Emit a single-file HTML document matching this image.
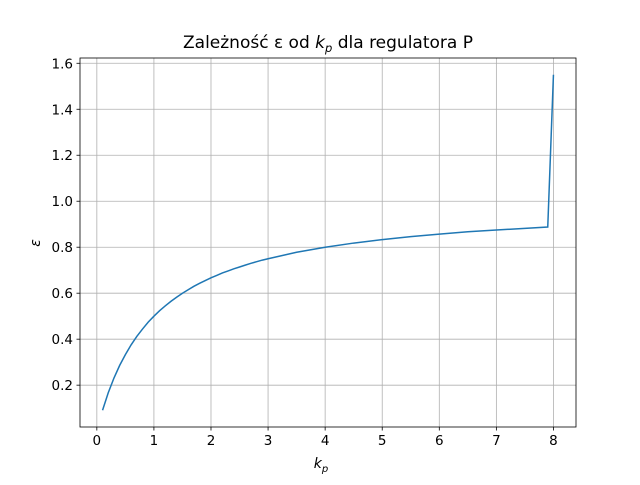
<!DOCTYPE html>
<html><head><meta charset="utf-8"><style>body{margin:0;background:#fff}svg text{font-family:"DejaVu Sans","Liberation Sans",sans-serif;fill:#000}</style></head>
<body>
<svg id="chart" width="640" height="480" xmlns="http://www.w3.org/2000/svg">
<rect width="640" height="480" fill="#fff"/>
<g id="grid"></g>
<g id="ticks"></g>
<path id="line" fill="none" stroke="#1f77b4" stroke-width="1.5"/>
<rect x="80" y="58" width="496" height="369" fill="none" stroke="#000" stroke-width="0.8"/>
<text x="328" y="48" text-anchor="middle" font-size="17">Zależność ε od <tspan font-style="italic">k</tspan><tspan font-style="italic" font-size="11.5" dy="4">p</tspan><tspan dy="-4"> dla regulatora P</tspan></text>
<text x="321" y="468" text-anchor="middle" font-size="14"><tspan font-style="italic">k</tspan><tspan font-style="italic" font-size="10" dy="4">p</tspan></text>
<text transform="translate(40,243) rotate(-90)" text-anchor="middle" font-size="14" font-style="italic">ε</text>
</svg>
<script>
const kp=[0.1,0.2,0.3,0.4,0.5,0.6,0.7,0.8,0.9,1.0,1.1,1.2,1.3,1.4,1.5,1.6,1.7,1.8,1.9,2.0,2.1,2.2,2.3,2.4,2.5,2.6,2.7,2.8,2.9,3.0,3.5,4.0,4.5,5.0,5.5,6.0,6.5,7.0,7.5,7.9,8.0];
const eps=[0.091,0.167,0.231,0.286,0.333,0.375,0.412,0.444,0.474,0.5,0.524,0.545,0.565,0.583,0.6,0.615,0.630,0.643,0.655,0.667,0.677,0.688,0.697,0.706,0.714,0.722,0.730,0.737,0.744,0.75,0.778,0.8,0.818,0.833,0.846,0.857,0.867,0.875,0.882,0.888,1.55];
const xTicks=[0,1,2,3,4,5,6,7,8];
const yTicks=[0.2,0.4,0.6,0.8,1.0,1.2,1.4,1.6];
const yLabels=["0.2","0.4","0.6","0.8","1.0","1.2","1.4","1.6"];
const L=80,R=576,T=58,B=427;
const xmin=Math.min(...kp),xmax=Math.max(...kp),ymin=Math.min(...eps),ymax=Math.max(...eps);
const x0=xmin-(xmax-xmin)*0.05,x1=xmax+(xmax-xmin)*0.05,y0=ymin-(ymax-ymin)*0.05,y1=ymax+(ymax-ymin)*0.05;
const sx=v=>L+(v-x0)/(x1-x0)*(R-L), sy=v=>B-(v-y0)/(y1-y0)*(B-T);
const NS="http://www.w3.org/2000/svg",grid=document.getElementById('grid'),tk=document.getElementById('ticks');
function mk(tag,attrs,parent){const e=document.createElementNS(NS,tag);for(const k in attrs)e.setAttribute(k,attrs[k]);parent.appendChild(e);return e;}
xTicks.forEach(v=>{const x=sx(v);
const g=mk('line',{x1:x,x2:x,y1:T,y2:B,stroke:'#b0b0b0','stroke-width':0.8},grid);


const t=mk('line',{x1:x,x2:x,y1:B,y2:B+3.5,stroke:'#000','stroke-width':0.8},tk);


const l=mk('text',{x:x,y:B+18,'text-anchor':'middle','font-size':13.5},tk);l.textContent=v;

});
yTicks.forEach((v,i)=>{const y=sy(v);
const g=mk('line',{x1:L,x2:R,y1:y,y2:y,stroke:'#b0b0b0','stroke-width':0.8},grid);


const t=mk('line',{x1:L-3.5,x2:L,y1:y,y2:y,stroke:'#000','stroke-width':0.8},tk);


const l=mk('text',{x:L-7,y:y+5,'text-anchor':'end','font-size':13.5},tk);l.textContent=yLabels[i];

});
document.getElementById('line').setAttribute('d',kp.map((v,i)=>(i?'L':'M')+sx(v).toFixed(2)+','+sy(eps[i]).toFixed(2)).join(''));
</script>
</body></html>
